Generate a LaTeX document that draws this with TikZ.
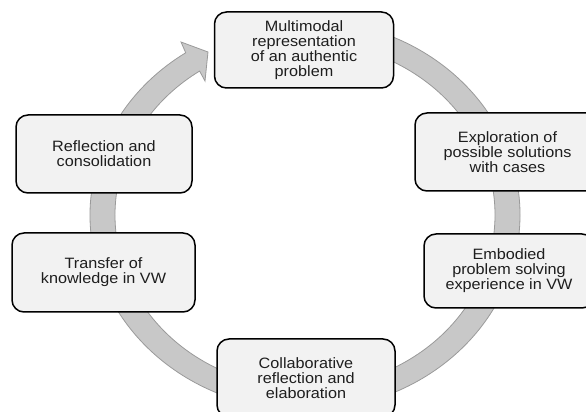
\documentclass[tikz,border=0pt]{standalone}
\usepackage{fontspec}
\setmainfont{Liberation Sans}[FakeStretch=1.08]
\usetikzlibrary{calc}
\definecolor{boxfill}{HTML}{F2F2F2}
\definecolor{ringfill}{HTML}{C8C8C8}
\definecolor{ringline}{HTML}{9A9A9A}
\definecolor{txt}{HTML}{1E1E1E}
\tikzset{
  stagebox/.style={rectangle, rounded corners=12pt, draw=black, line width=1.5pt,
    fill=boxfill, align=center, text=txt, inner sep=0pt,
    font=\fontsize{15}{15}\selectfont},
}
\begin{document}
\begin{tikzpicture}[x=1pt,y=1pt]
\useasboundingbox (0,0) rectangle (586,412);
\clip (0,0) rectangle (586,412);
\coordinate (C) at (305,197);
\coordinate (W1) at (181,370);
\coordinate (T) at (208,360);
\coordinate (W2) at (205,331);
% ring arrow
\filldraw[fill=ringfill, draw=ringline, line width=0.8pt, line join=miter]
  ($(C)+(85:215pt and 195pt)$)
  arc[start angle=85, end angle=-236.3, x radius=215pt, y radius=195pt]
  -- (W1) -- (T) -- (W2)
  -- ($(C)+(123.7:190pt and 173pt)$)
  arc[start angle=-236.3, end angle=85, x radius=190pt, y radius=173pt]
  -- cycle;
% boxes
\node[stagebox, minimum width=179pt, minimum height=76pt] (top) at (304,362)
  {Multimodal\\representation\\of an authentic\\problem};
\node[stagebox, minimum width=185pt, minimum height=78pt] (ru) at (507.5,260)
  {Exploration of\\possible solutions\\with cases};
\node[stagebox, minimum width=170pt, minimum height=74pt] (rl) at (509,141)
  {Embodied\\problem solving\\experience in VW};
\node[stagebox, minimum width=178pt, minimum height=78pt] (bot) at (306,34)
  {Collaborative\\reflection and\\elaboration};
\node[stagebox, minimum width=176pt, minimum height=78pt] (lu) at (104,258)
  {Reflection and\\consolidation};
\node[stagebox, minimum width=183pt, minimum height=79pt] (ll) at (103.5,139.5)
  {Transfer of\\knowledge in VW};
\end{tikzpicture}
\end{document}
